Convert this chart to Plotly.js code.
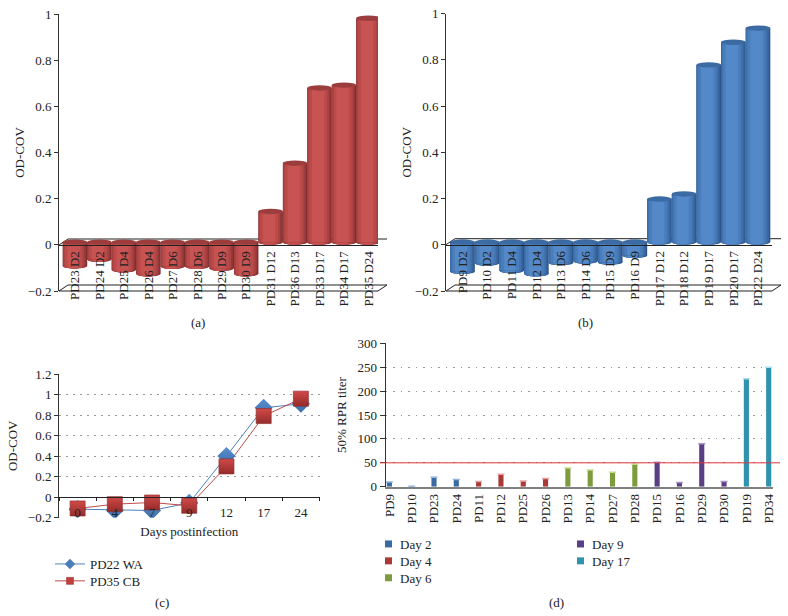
<!DOCTYPE html>
<html><head><meta charset="utf-8">
<script src="https://cdn.plot.ly/plotly-3.0.1.min.js"></script>
<style>html,body{margin:0;padding:0;background:#fff}</style></head>
<body><div id="chart" style="width:788px;height:616px"></div>
<script>
const aLabels = ['PD23 D2','PD24 D2','PD25 D4','PD26 D4','PD27 D6','PD28 D6','PD29 D9','PD30 D9','PD31 D12','PD36 D13','PD33 D17','PD34 D17','PD35 D24'];
const aValues = [-0.103,-0.074,-0.12,-0.137,-0.105,-0.105,-0.113,-0.137,0.133,0.342,0.668,0.68,0.97];
const bLabels = ['PD9 D2','PD10 D2','PD11 D4','PD12 D4','PD13 D6','PD14 D6','PD15 D9','PD16 D9','PD17 D12','PD18 D12','PD19 D17','PD20 D17','PD22 D24'];
const bValues = [-0.127,-0.091,-0.123,-0.137,-0.089,-0.082,-0.087,-0.058,0.186,0.208,0.766,0.864,0.925];
const cDays = ['0','4','7','9','12','17','24'];
const cPD22 = [-0.117,-0.127,-0.13,-0.055,0.40,0.87,0.91];
const cPD35 = [-0.11,-0.068,-0.052,-0.084,0.30,0.79,0.96];
const dNames = ['PD9','PD10','PD23','PD24','PD11','PD12','PD25','PD26','PD13','PD14','PD27','PD28','PD15','PD16','PD29','PD30','PD19','PD34'];
const dDay2 = [10,1,20,15];
const dDay4 = [11,26,12,17];
const dDay6 = [39,35,30,47];
const dDay9 = [51,9,90,11];
const dDay17 = [226,250];
const dThreshold = 50;

const W=788,H=616,SERIF='Liberation Serif, Times New Roman, serif',TXT='#222';
const px=x=>x/W, py=y=>1-y/H;
const data=[], shapes=[], annotations=[];
const redBands=[[1,0,'#7d2e2d'],[.95,-.025,'#97393a'],[.86,-.05,'#aa4342'],[.72,-.06,'#bb4a49'],[.5,-.06,'#c75352']];
const blueBands=[[1,0,'#2d5587'],[.95,-.025,'#3765a0'],[.86,-.05,'#4173af'],[.72,-.06,'#4a7dbb'],[.5,-.06,'#5389c8']];
const layout={width:W,height:H,margin:{l:0,r:0,t:0,b:0},paper_bgcolor:'#fff',plot_bgcolor:'rgba(0,0,0,0)',
  barmode:'overlay',font:{family:SERIF,size:13,color:TXT},hovermode:false,showlegend:true};

function line(x0,y0,x1,y1,color,width){shapes.push({type:'line',xref:'paper',yref:'paper',x0:px(x0),y0:py(y0),x1:px(x1),y1:py(y1),layer:'below',line:{color:color||'#222',width:width||1}});}

function cylinderPanel(n,labels,values,bands,capColor,g){
  const xa='x'+(n===1?'':n), ya='y'+(n===1?'':n);
  const xs=labels.map((_,i)=>i);
  const unit=(g.y0-g.top)/1;
  const ry=2.7/unit, depth=2.7/unit;
  bands.forEach(b=>{
    data.push({type:'bar',x:xs,y:values,base:xs.map(()=>depth),width:b[0],offset:-b[0]/2+b[1],
      marker:{color:b[2],line:{width:0}},xaxis:xa,yaxis:ya,showlegend:false});
  });
  values.forEach((v,i)=>{
    const end=v+depth;
    bands.forEach(b=>{
      const low=v<0?end:depth;
      shapes.push({type:'circle',xref:xa,yref:ya,layer:'between',x0:i-b[0]/2+b[1],x1:i+b[0]/2+b[1],y0:low-ry,y1:low+ry,fillcolor:b[2],line:{width:0}});
    });
    const top=v<0?depth:end;
    shapes.push({type:'circle',xref:xa,yref:ya,layer:'above',x0:i-.5,x1:i+.5,y0:top-ry,y1:top+ry,fillcolor:capColor,line:{width:0}});
  });
  const spacing=(g.lastX-g.firstX)/(labels.length-1);
  layout['xaxis'+(n===1?'':n)]={domain:[px(g.l),px(g.r)],anchor:'free',position:py(g.y0),
    range:[(g.l-g.firstX)/spacing,(g.r-g.firstX)/spacing],tickmode:'array',tickvals:xs,ticktext:labels,tickangle:-90,
    showline:true,linecolor:'#222',linewidth:1,ticks:'',showgrid:false,zeroline:false,ticklabelstandoff:0,
    tickfont:{family:SERIF,size:13,color:TXT}};
  layout['yaxis'+(n===1?'':n)]={domain:[py(g.bottom),py(g.top)],anchor:xa,range:[-0.2,1],dtick:0.2,
    showline:true,linecolor:'#333',linewidth:1,ticks:'outside',ticklen:4,tickcolor:'#333',showgrid:false,zeroline:false,
    tickfont:{family:SERIF,size:13,color:TXT},title:{text:'OD-COV',standoff:g.standoff,font:{family:SERIF,size:13,color:TXT}}};
  const d=9,e=6;
  line(g.l,g.bottom,g.r,g.bottom);
  line(g.l+d,g.bottom-e,g.r+d,g.bottom-e);
  line(g.l,g.bottom,g.l+d,g.bottom-e);
  line(g.r,g.bottom,g.r+d,g.bottom-e);
  line(g.l+d,g.y0-e,g.r+d,g.y0-e);
  line(g.l,g.y0,g.l+d,g.y0-e);
}
cylinderPanel(1,aLabels,aValues,redBands,'#9b3d3c',{l:59,r:378,top:14,y0:245,bottom:291,firstX:75,lastX:368.5,standoff:0});
cylinderPanel(2,bLabels,bValues,blueBands,'#3c6aa3',{l:446,r:772,top:13.5,y0:244.7,bottom:291,firstX:462.5,lastX:758,standoff:0});

// Panel c: line + small legend marker, then large data markers on top
data.push({type:'scatter',mode:'lines+markers',name:'PD22 WA',x:cDays,y:cPD22,xaxis:'x3',yaxis:'y3',legend:'legend',
  line:{color:'#4F81BD',width:1},marker:{symbol:'diamond',size:8,color:'#4A7EBB'}});
data.push({type:'scatter',mode:'lines+markers',name:'PD35 CB',x:cDays,y:cPD35,xaxis:'x3',yaxis:'y3',legend:'legend',
  line:{color:'#BE4B48',width:1},marker:{symbol:'square',size:7,color:'#C23F3D',line:{color:'#8f2f2e',width:0.5}}});
data.push({type:'scatter',mode:'markers',x:cDays,y:cPD22,xaxis:'x3',yaxis:'y3',showlegend:false,
  marker:{symbol:'diamond',size:14,color:'#5A90D0',gradient:{type:'vertical',color:'#3A6CA8'},line:{width:0}}});
data.push({type:'scatter',mode:'markers',x:cDays,y:cPD35,xaxis:'x3',yaxis:'y3',showlegend:false,
  marker:{symbol:'square',size:15,color:'#D04A48',gradient:{type:'vertical',color:'#952B2A'},line:{color:'#8f2f2e',width:0.7}}});
layout.xaxis3={domain:[px(59),px(319.5)],anchor:'free',position:py(497),type:'category',categoryorder:'array',categoryarray:cDays,
  range:[-0.5,6.5],tickson:'boundaries',showline:true,linecolor:'#222',linewidth:1,ticks:'outside',ticklen:3,tickcolor:'#222',
  showgrid:false,zeroline:false,ticklabelstandoff:3,tickfont:{family:SERIF,size:13,color:TXT},
  title:{text:'Days postinfection',standoff:8,font:{family:SERIF,size:13,color:TXT}}};
layout.yaxis3={domain:[py(517.7),py(374)],anchor:'x3',range:[-0.2,1.2],dtick:0.2,showline:true,linecolor:'#333',ticks:'outside',ticklen:4,tickcolor:'#333',
  showgrid:true,gridcolor:'#999',griddash:'1.5px,5.5px',gridwidth:1,zeroline:false,
  tickfont:{family:SERIF,size:13,color:TXT},title:{text:'OD-COV',standoff:7,font:{family:SERIF,size:13,color:TXT}}};

// Panel d
const dGroups=[['Day 2',dDay2,'#3A6AA3','#8fb4de','legend2'],['Day 4',dDay4,'#A93A38','#e8a3a1','legend2'],['Day 6',dDay6,'#7E9C3E','#c6dc8c','legend2'],['Day 9',dDay9,'#5A3F85','#a793c8','legend3'],['Day 17',dDay17,'#2F93AD','#a5e3f2','legend3']];
let cursor=0;
dGroups.forEach(g=>{
  const xs=g[1].map((_,i)=>cursor+i);
  cursor+=g[1].length;
  data.push({type:'bar',name:g[0],x:xs,y:g[1],width:0.23,xaxis:'x4',yaxis:'y4',legend:g[4],marker:{color:g[2],line:{width:0}}});
  data.push({type:'scatter',mode:'markers',x:xs,y:g[1],xaxis:'x4',yaxis:'y4',showlegend:false,
    marker:{symbol:'line-ew',size:5,line:{color:g[3],width:1.5}}});
});
layout.xaxis4={domain:[px(385.7),px(772.7)],anchor:'y4',range:[-0.165,17.18],tickmode:'array',tickvals:dNames.map((_,i)=>i),ticktext:dNames,tickangle:-90,
  showline:true,linecolor:'#808080',linewidth:2,ticks:'',showgrid:false,zeroline:false,ticklabelstandoff:0,tickfont:{family:SERIF,size:13,color:TXT}};
layout.yaxis4={domain:[py(486.7),py(343.4)],anchor:'x4',range:[0,300],dtick:50,showline:true,linecolor:'#333',ticks:'outside',ticklen:5,tickcolor:'#333',
  showgrid:true,gridcolor:'#999',griddash:'1.5px,6px',gridwidth:1,zeroline:false,
  tickfont:{family:SERIF,size:13,color:TXT},title:{text:'50% RPR titer',standoff:8,font:{family:SERIF,size:13,color:TXT}}};
shapes.push({type:'line',xref:'paper',yref:'y4',x0:px(380),x1:px(780),y0:dThreshold,y1:dThreshold,layer:'above',line:{color:'#E0343C',width:1}});

const legendBase={bgcolor:'rgba(0,0,0,0)',borderwidth:0,xanchor:'left',yanchor:'top',font:{family:SERIF,size:13,color:TXT},tracegroupgap:0,itemwidth:30};
layout.legend=Object.assign({},legendBase,{x:px(50),y:py(549)});
layout.legend2=Object.assign({},legendBase,{x:px(360),y:py(529)});
layout.legend3=Object.assign({},legendBase,{x:px(552),y:py(529)});

[['(a)',198,322],['(b)',585,322],['(c)',162,602],['(d)',556,602]].forEach(c=>{
  annotations.push({text:c[0],xref:'paper',yref:'paper',x:px(c[1]),y:py(c[2]),xanchor:'center',yanchor:'middle',showarrow:false,font:{family:SERIF,size:13,color:TXT}});
});
layout.shapes=shapes;layout.annotations=annotations;

function tightenLegends(){
  // legend rows are 17px apart with small swatches in the reference
  ['legend','legend2','legend3'].forEach(cls=>{
    const root=document.querySelector('g.'+cls);
    if(!root)return;
    root.querySelectorAll('g.traces').forEach((t,i)=>{
      const m=/translate\(([-\d.]+),\s*([-\d.]+)\)/.exec(t.getAttribute('transform')||'');
      if(!m)return;
      if(t.dataset.y0===undefined)t.dataset.y0=m[2];
      t.setAttribute('transform','translate('+m[1]+','+(parseFloat(t.dataset.y0)-3*i)+')');
    });
    root.querySelectorAll('g.legendpoints path').forEach(p=>{
      if(cls==='legend')return;
      p.setAttribute('d','M3.5,3.5H-3.5V-3.5H3.5Z');
      p.setAttribute('transform','translate(28.5,0)');
    });
  });
}
Plotly.newPlot('chart',data,layout,{displayModeBar:false,staticPlot:true}).then(()=>{
  tightenLegends();
  setTimeout(tightenLegends,0);
  setTimeout(tightenLegends,100);
});
</script></body></html>
